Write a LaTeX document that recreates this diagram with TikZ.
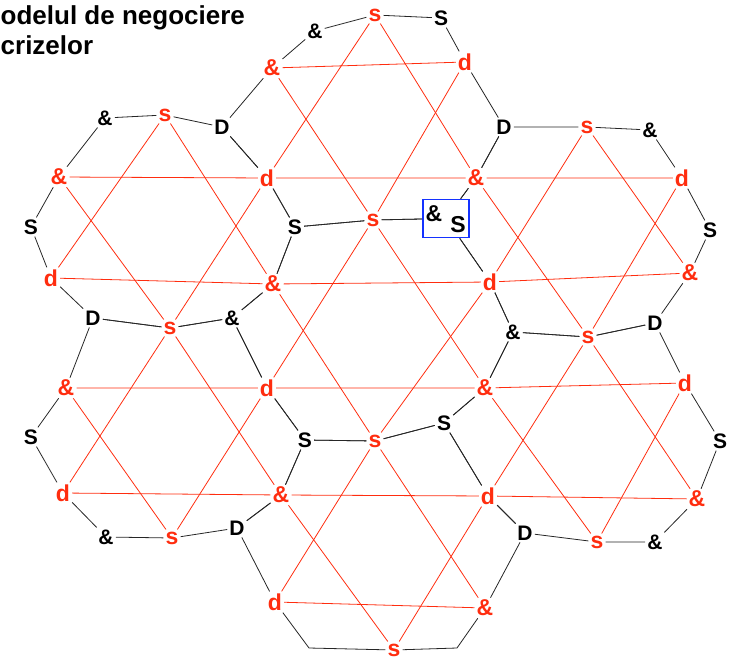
\documentclass[tikz,border=0pt]{standalone}
\usepackage{fontspec}
\setmainfont{Liberation Sans}
\usetikzlibrary{positioning}
\definecolor{starred}{RGB}{255,45,15}
\definecolor{boxblue}{RGB}{20,50,255}
\tikzset{hexnode/.style={font=\bfseries\fontsize{21}{21}\selectfont, inner sep=2pt},
         starnode/.style={hexnode, text=starred, font=\bfseries\fontsize{23}{23}\selectfont}}

\begin{document}
\begin{tikzpicture}[x=1pt, y=-1pt,
    title/.style={font=\bfseries\fontsize{26}{30}\selectfont, inner sep=0pt},
    hexline/.style={black!85, line width=0.8pt},
    starline/.style={starred, line width=0.8pt}]
    \useasboundingbox (0,0) rectangle (731,661);
    \node[title, anchor=base west] (title1) at (0.5,25) {odelul de negociere};
    \node[title, anchor=base west] (title2) at (0.5,55) {crizelor};
    % vertices of the hexagons
    \node[hexnode] (va1) at (315,31) {\&};
    \node[hexnode] (va2) at (441,18) {S};
    \node[hexnode] (vb1) at (105,118) {\&};
    \node[hexnode] (vb2) at (222,127) {D};
    \node[hexnode] (vb3) at (504,127) {D};
    \node[hexnode] (vb4) at (650,130) {\&};
    \node[hexnode] (vc1) at (31,227) {S};
    \node[hexnode] (vc2) at (295,227) {S};
    \node[draw=boxblue, line width=1.6pt, minimum width=46pt, minimum height=38pt] (vc3) at (446,218.5) {};
    \node[hexnode, inner sep=0pt, font=\bfseries\fontsize{23}{23}\selectfont] (vc3a) at (434,214) {\&};
    \node[hexnode, inner sep=0pt, font=\bfseries\fontsize{23}{23}\selectfont] (vc3b) at (458,225) {S};
    \node[hexnode] (vc4) at (710,230) {S};
    \node[hexnode] (vd1) at (93,318) {D};
    \node[hexnode] (vd2) at (232,318) {\&};
    \node[hexnode] (vd3) at (513,332) {\&};
    \node[hexnode] (vd4) at (655,323) {D};
    \node[hexnode] (ve1) at (31,437) {S};
    \node[hexnode] (ve2) at (305,440) {S};
    \node[hexnode] (ve3) at (444,423) {S};
    \node[hexnode] (ve4) at (720,441) {S};
    \node[hexnode] (vf1) at (106,537) {\&};
    \node[hexnode] (vf2) at (237,528) {D};
    \node[hexnode] (vf3) at (525,533) {D};
    \node[hexnode] (vf4) at (655,542) {\&};
    \coordinate (vg1) at (309,648);
    \coordinate (vg2) at (457,648);
    % midpoints of the edges
    \node[starnode] (m1) at (375,15) {s};
    \node[starnode] (m2a) at (272,68) {\&};
    \node[starnode] (m2b) at (465,62) {d};
    \node[starnode] (m3a) at (165,115) {s};
    \node[starnode] (m3b) at (587,127) {s};
    \node[starnode] (m4a) at (59,177) {\&};
    \node[starnode] (m4b) at (267,178) {d};
    \node[starnode] (m4c) at (476,178) {\&};
    \node[starnode] (m4d) at (682,178) {d};
    \node[starnode] (m5) at (373,220) {s};
    \node[starnode] (m6a) at (51,278) {d};
    \node[starnode] (m6b) at (273,284) {\&};
    \node[starnode] (m6c) at (490,282) {d};
    \node[starnode] (m6d) at (690,273) {\&};
    \node[starnode] (m7a) at (170,328) {s};
    \node[starnode] (m7b) at (588,337) {s};
    \node[starnode] (m8a) at (66,388) {\&};
    \node[starnode] (m8b) at (267,388) {d};
    \node[starnode] (m8c) at (485,388) {\&};
    \node[starnode] (m8d) at (685,383) {d};
    \node[starnode] (m9) at (375,441) {s};
    \node[starnode] (m10a) at (63,493) {d};
    \node[starnode] (m10b) at (281,495) {\&};
    \node[starnode] (m10c) at (488,496) {d};
    \node[starnode] (m10d) at (697,499) {\&};
    \node[starnode] (m11a) at (172,538) {s};
    \node[starnode] (m11b) at (597,542) {s};
    \node[starnode] (m12a) at (275,602) {d};
    \node[starnode] (m12b) at (485,608) {\&};
    \node[starnode] (m13) at (394,650) {s};
    % each hexagon: outline and star
    \foreach \hA/\hB/\hC/\hD/\hE/\hF/\hG/\hH/\hI/\hJ/\hK/\hL in {
        vb3/m2b/va2/m1/va1/m2a/vb2/m4b/vc2/m5/vc3/m4c,
        vc2/m4b/vb2/m3a/vb1/m4a/vc1/m6a/vd1/m7a/vd2/m6b,
        vc4/m4d/vb4/m3b/vb3/m4c/vc3/m6c/vd3/m7b/vd4/m6d,
        vd3/m6c/vc3/m5/vc2/m6b/vd2/m8b/ve2/m9/ve3/m8c,
        ve2/m8b/vd2/m7a/vd1/m8a/ve1/m10a/vf1/m11a/vf2/m10b,
        ve4/m8d/vd4/m7b/vd3/m8c/ve3/m10c/vf3/m11b/vf4/m10d,
        vf3/m10c/ve3/m9/ve2/m10b/vf2/m12a/vg1/m13/vg2/m12b}
    {
        \draw[hexline] (\hA) -- (\hB) -- (\hC) -- (\hD) -- (\hE) -- (\hF) -- (\hG)
            -- (\hH) -- (\hI) -- (\hJ) -- (\hK) -- (\hL) -- (\hA);
        \draw[starline] (\hD) -- (\hH) -- (\hL) -- (\hD);
        \draw[starline] (\hF) -- (\hB) -- (\hJ) -- (\hF);
    }
\end{tikzpicture}
\end{document}
